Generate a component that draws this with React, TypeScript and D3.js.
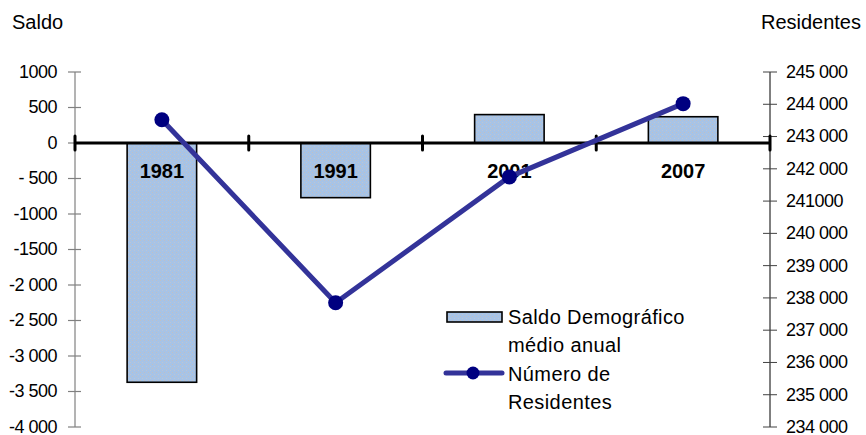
import React from "react";
import * as d3 from "d3";

// Census years and the two series plotted against them
const years = ["1981", "1991", "2001", "2007"];
const saldo = [-3370, -770, 400, 370];
const residentes = [243520, 237850, 241750, 244020];

const leftTickValues = [1000, 500, 0, -500, -1000, -1500, -2000, -2500, -3000, -3500, -4000];
const leftTickLabels = ["1000", "500", "0", "- 500", "-1000", "-1500", "-2 000", "-2 500", "-3 000", "-3 500", "-4 000"];
const rightTickValues = [245000, 244000, 243000, 242000, 241000, 240000, 239000, 238000, 237000, 236000, 235000, 234000];
const rightTickLabels = ["245 000", "244 000", "243 000", "242 000", "241000", "240 000", "239 000", "238 000", "237 000", "236 000", "235 000", "234 000"];

const W = 866;
const H = 435;
const FONT = "'Liberation Sans', Arial, sans-serif";

export default function App() {
  const left = 75;
  const right = 770;
  const top = 72;
  const bottom = 427;

  const x = d3.scaleBand<string>().domain(years).range([left, right]).paddingInner(0.6).paddingOuter(0.3);
  const yL = d3.scaleLinear().domain([-4000, 1000]).range([bottom, top]);
  const yR = d3.scaleLinear().domain([234000, 245000]).range([bottom, top]);
  const step = x.step();
  const bw = x.bandwidth();
  const y0 = yL(0);

  const cx = (c: string) => (x(c) as number) + bw / 2;

  const line = d3
    .line<number>()
    .x((_, i) => cx(years[i]))
    .y((d) => yR(d));

  const boundaries = d3.range(years.length + 1).map((i) => left + i * step);

  return (
    <div style={{ position: "absolute", left: 0, top: 0 }}>
      <svg width={W} height={H} style={{ display: "block", fontFamily: FONT }}>
        <defs>
          <pattern id="dots" width="4" height="4" patternUnits="userSpaceOnUse">
            <rect width="4" height="4" fill="#a7c3e6" />
            <rect x="0" y="0" width="1" height="1" fill="#c0c0c4" />
            <rect x="2" y="2" width="1" height="1" fill="#bcc6d4" />
          </pattern>
        </defs>
        <rect width={W} height={H} fill="#fff" />

        {/* axis titles */}
        <text x={12} y={29} fontSize={20} fill="#000">Saldo</text>
        <text x={861} y={29} fontSize={20} fill="#000" textAnchor="end">Residentes</text>

        {/* left axis */}
        <line x1={left} x2={left} y1={top} y2={bottom} stroke="#808080" strokeWidth={1.2} />
        {leftTickValues.map((v, i) => (
          <g key={"l" + v}>
            <line x1={left - 7} x2={left + 6} y1={yL(v)} y2={yL(v)} stroke="#808080" strokeWidth={1.2} />
            <text x={57} y={yL(v)} dy="0.33em" fontSize={18} textAnchor="end" fill="#000" letterSpacing={-0.5}>
              {leftTickLabels[i]}
            </text>
          </g>
        ))}

        {/* right axis */}
        <line x1={right} x2={right} y1={top} y2={bottom} stroke="#000" strokeWidth={1} />
        {rightTickValues.map((v, i) => (
          <g key={"r" + v}>
            <line x1={right - 7} x2={right + 7} y1={yR(v)} y2={yR(v)} stroke="#404040" strokeWidth={1} />
            <text x={786} y={yR(v)} dy="0.33em" fontSize={18} fill="#000" letterSpacing={-0.5}>
              {rightTickLabels[i]}
            </text>
          </g>
        ))}

        {/* bars */}
        {years.map((c, i) => {
          const v = saldo[i];
          const yTop = Math.min(yL(v), y0);
          const h = Math.abs(yL(v) - y0);
          return (
            <rect key={c} x={x(c)} y={yTop} width={bw} height={h} fill="url(#dots)" stroke="#000" strokeWidth={1.6} />
          );
        })}

        {/* zero line with category ticks */}
        <line x1={left} x2={right} y1={y0} y2={y0} stroke="#000" strokeWidth={3} />
        {boundaries.map((bx) => (
          <line key={bx} x1={bx} x2={bx} y1={y0 - 7} y2={y0 + 7} stroke="#000" strokeWidth={3} strokeLinecap="round" />
        ))}

        {/* category labels */}
        {years.map((c) => (
          <text key={"t" + c} x={cx(c)} y={178} fontSize={20} fontWeight="bold" textAnchor="middle" fill="#000">
            {c}
          </text>
        ))}

        {/* residents line */}
        <path d={line(residentes) as string} fill="none" stroke="#333399" strokeWidth={5} strokeLinejoin="round" />
        {residentes.map((v, i) => (
          <circle key={"p" + i} cx={cx(years[i])} cy={yR(v)} r={7.5} fill="#000080" />
        ))}

        {/* legend */}
        <rect x={447} y={312} width={55} height={10} fill="url(#dots)" stroke="#000" strokeWidth={1.6} />
        <text x={508} y={324} fontSize={20} fill="#000" letterSpacing={0.4}>Saldo Demográfico</text>
        <text x={508} y={352} fontSize={20} fill="#000" letterSpacing={0.4}>médio anual</text>
        <line x1={446} x2={502} y1={373} y2={373} stroke="#333399" strokeWidth={5} strokeLinecap="round" />
        <circle cx={473} cy={373} r={6.5} fill="#000080" />
        <text x={508} y={381} fontSize={20} fill="#000" letterSpacing={0.4}>Número de</text>
        <text x={508} y={409} fontSize={20} fill="#000" letterSpacing={0.4}>Residentes</text>
      </svg>
    </div>
  );
}
